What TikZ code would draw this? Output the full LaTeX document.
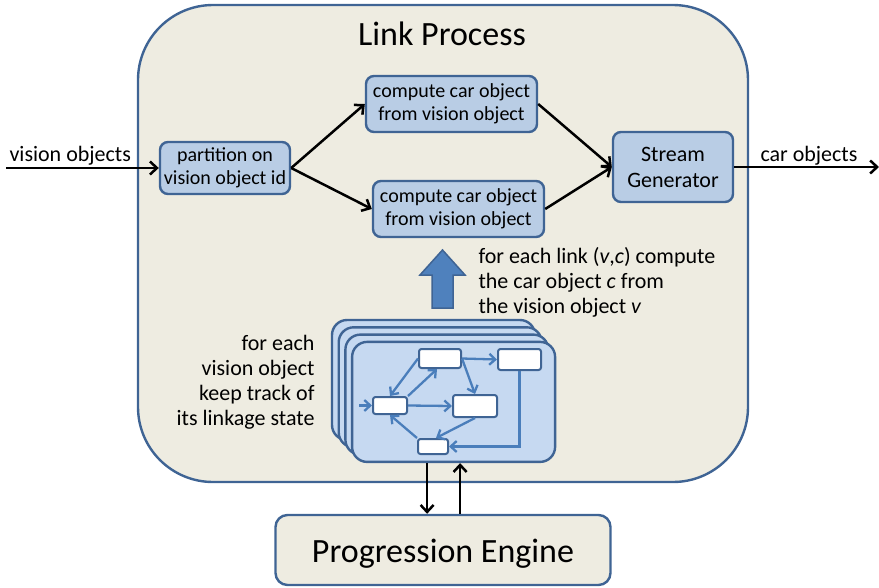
\documentclass[tikz,border=0pt]{standalone}
\usepackage{fontspec}
\setmainfont{Carlito}
\usetikzlibrary{arrows.meta,positioning}
\definecolor{paper}{HTML}{EEECE1}
\definecolor{boxblue}{HTML}{B9CDE5}
\definecolor{edgeblue}{HTML}{3F6494}
\definecolor{layerblue}{HTML}{C6D9F1}
\definecolor{flowblue}{HTML}{4A7EBB}
\definecolor{arrowblue}{HTML}{4F81BD}
\begin{document}
\begin{tikzpicture}[x=1pt,y=-1pt,
  procbox/.style={draw=edgeblue, fill=boxblue, line width=2.4pt, rounded corners=8pt, align=center, inner sep=0pt, font=\fontsize{20}{23}\selectfont},
  statebox/.style={draw=edgeblue, fill=white, line width=2pt, rounded corners=2.5pt, inner sep=0pt},
  flow/.style={-{Straight Barb[length=7pt,width=13pt]}, line width=2.5pt},
  stateflow/.style={-{Straight Barb[length=6pt,width=11pt]}, line width=2.3pt, draw=flowblue},
  sidetext/.style={font=\fontsize{22}{25}\selectfont}]
\useasboundingbox (0,0) rectangle (879,587);
% Link process container
\node[draw=edgeblue, fill=paper, line width=2.4pt, rounded corners=75pt, minimum width=610pt, minimum height=477pt] (link) at (443,243.5) {};
\node[font=\fontsize{34}{38}\selectfont] (title) at (442,34) {Link Process};
% Processing boxes
\node[procbox, minimum width=130pt, minimum height=52pt] (part) at (225,168) {partition on\\vision object id};
\node[procbox, minimum width=171pt, minimum height=56pt] (comp1) at (451.5,104) {compute car object\\from vision object};
\node[procbox, minimum width=171pt, minimum height=56pt] (comp2) at (458.5,209) {compute car object\\from vision object};
\node[procbox, minimum width=120pt, minimum height=70pt, font=\fontsize{22}{26}\selectfont] (stream) at (673,167) {Stream\\Generator};
% Input and output streams
\coordinate (src) at (6,168);
\coordinate (sink) at (879,167);
\draw[flow] (src) -- (part.west);
\draw[flow] (stream.east) -- (sink);
\node[sidetext, anchor=base west] (inlbl) at (6,161) {vision objects};
\node[sidetext, anchor=base west] (outlbl) at (757,161) {car objects};
\draw[flow] (part.east) -- (comp1.west);
\draw[flow] (part.east) -- (comp2.west);
\draw[flow] (comp1.east) -- (stream.west);
\draw[flow] (comp2.east) -- (stream.west);
% Big arrow
\draw[fill=arrowblue, draw=edgeblue, line width=1.5pt, line join=miter] (442.5,250) -- (465,275) -- (453,275) -- (453,308) -- (432,308) -- (432,275) -- (420,275) -- cycle;
\node[sidetext, align=left, anchor=west] (linklbl) at (475,282) {for each link (\textit{v},\textit{c}) compute\\the car object \textit{c} from\\the vision object \textit{v}};
% Stacked linkage state machines
\foreach \i in {0,...,3} {
  \node[draw=edgeblue, fill=layerblue, line width=2.4pt, rounded corners=15pt, minimum width=203pt, minimum height=120pt, inner sep=0pt] (layer\i) at ({433.5+6.7*\i},{380+7.3*\i}) {};
}
\node[sidetext, align=right, anchor=east] (tracklbl) at (318,382) {for each\\vision object\\keep track of\\its linkage state};
% States
\node[statebox, minimum width=42pt, minimum height=19pt] (sA) at (440,358.5) {};
\node[statebox, minimum width=43pt, minimum height=21pt] (sB) at (519.5,359.5) {};
\node[statebox, minimum width=34pt, minimum height=17pt] (sC) at (390,405.5) {};
\node[statebox, minimum width=44pt, minimum height=22pt] (sD) at (475,406) {};
\node[statebox, minimum width=30pt, minimum height=15pt] (sE) at (433,446.5) {};
\coordinate (entry) at (359,405.5);
\draw[stateflow] (entry) -- (sC.west);
\draw[stateflow] (sC.north east) -- ([xshift=-3pt]sA.south);
\draw[stateflow] (sA.west) -- (sC.north);
\draw[stateflow] (sA.east) -- (sB.west);
\draw[stateflow] (sA.east) -- (sD.north);
\draw[stateflow] (sC.east) -- (sD.west);
\draw[stateflow] (sD.south) -- ([xshift=3pt]sE.north);
\draw[stateflow] (sE.north west) -- (sC.south);
\draw[stateflow] (sB.south) |- (sE.east);
% Progression engine
\node[draw=edgeblue, fill=paper, line width=2.4pt, rounded corners=12pt, minimum width=335pt, minimum height=70pt, text height=28pt, text depth=4pt, font=\fontsize{34}{38}\selectfont] (prog) at (443,550) {Progression Engine};
\draw[flow] ([xshift=-26.5pt]layer3.south) -- ([xshift=-26.5pt]layer3.south |- prog.north);
\draw[flow] ([xshift=6.5pt]layer3.south |- prog.north) -- ([xshift=6.5pt]layer3.south);
\end{tikzpicture}
\end{document}
